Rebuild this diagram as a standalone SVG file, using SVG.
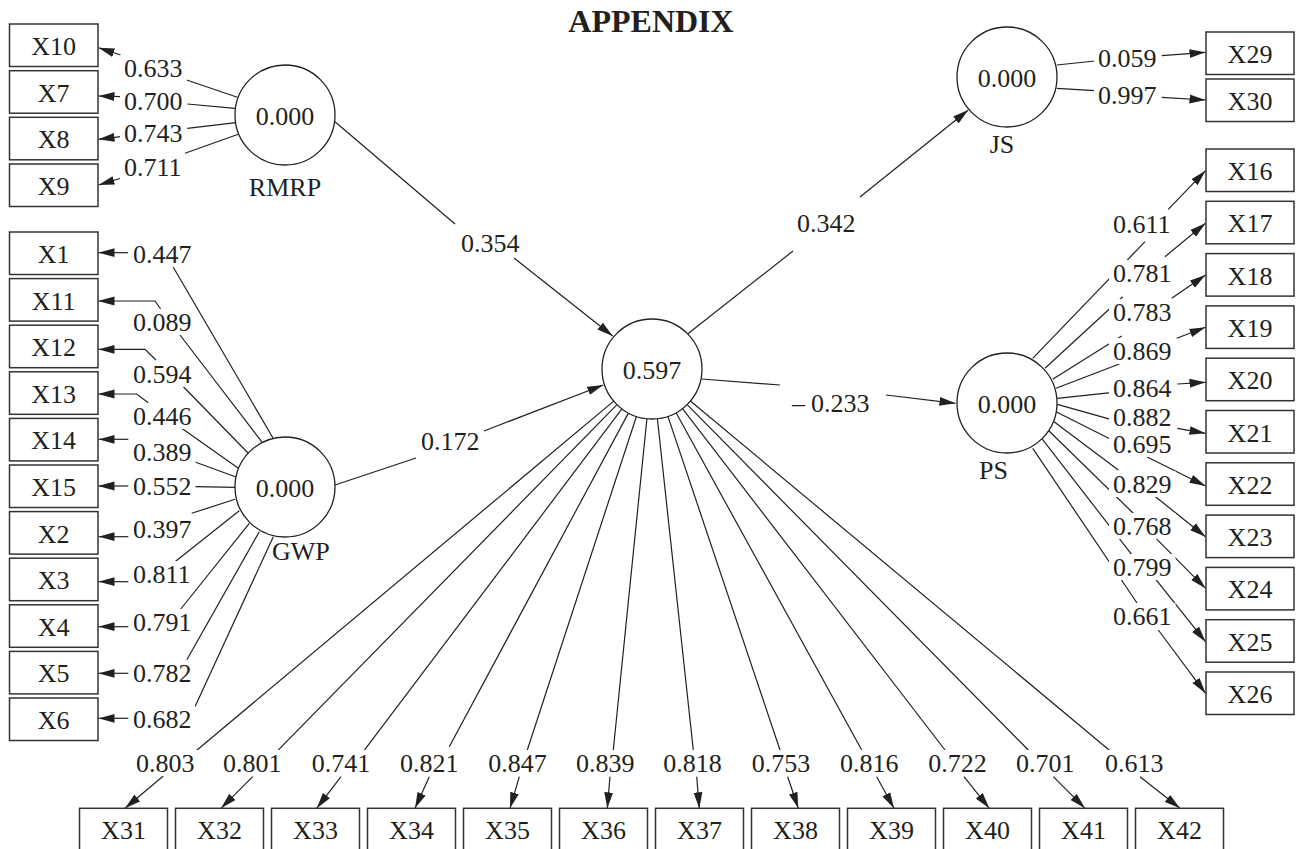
<svg xmlns="http://www.w3.org/2000/svg" width="1300" height="849" viewBox="0 0 1300 849">
<defs>
<marker id="ah" viewBox="0 0 16 10" refX="16" refY="5" markerWidth="16" markerHeight="10" markerUnits="userSpaceOnUse" orient="auto"><path d="M0,0.6 L16,5 L0,9.4 z" fill="#231f20"/></marker>
<style>
text{font-family:"Liberation Serif","Times New Roman",serif;font-size:26px;fill:#231f20}
.c{text-anchor:middle}
.t{font-weight:bold;font-size:32px}
.box rect{fill:#fff;stroke:#333;stroke-width:1.5}
.lv circle{fill:#fff;stroke:#231f20;stroke-width:1.3}
.s{fill:none;stroke:#231f20;stroke-width:1.2}
.a{fill:none;stroke:#231f20;stroke-width:1.2;marker-end:url(#ah)}
.lb rect{fill:#fff}
</style>
</defs>
<rect width="1300" height="849" fill="#fff"/>
<text class="c t" x="651" y="32">APPENDIX</text>

<g id="connectors">
<!-- RMRP loadings -->
<path class="s" d="M237.3,97.3 L186.7,80"/><path class="a" d="M120.7,55 L98.5,47.7"/>
<path class="s" d="M235,108.3 L187.3,104"/><path class="a" d="M120.7,96.7 L98.5,96"/>
<path class="s" d="M236,122.7 L187.3,128.3"/><path class="a" d="M120.7,136.7 L98.5,139.3"/>
<path class="s" d="M238.3,134.3 L185,153.3"/><path class="a" d="M120.7,178.3 L98.5,185"/>
<!-- GWP loadings -->
<path class="s" d="M273,438 L173,266.7"/><path class="a" d="M128,252.7 L98.5,252.7"/>
<path class="s" d="M261.7,441.7 L180,335"/><path class="a" d="M160.7,309 L155,301 L98.5,301"/>
<path class="s" d="M248,453 L181.7,385"/><path class="a" d="M156,360 L145,349.3 L98.5,349.3"/>
<path class="s" d="M238,468 L181.7,428.3"/><path class="a" d="M148.3,402.7 L136.7,394 L98.5,394"/>
<path class="s" d="M236,477 L195,462"/><path class="a" d="M128.3,439.3 L98.5,439.3"/>
<path class="s" d="M235.7,487.3 L195,486.7"/><path class="a" d="M128.3,486 L98.5,486"/>
<path class="s" d="M235,499.3 L191.7,513.3"/><path class="a" d="M128.3,536.7 L98.5,536.7"/>
<path class="s" d="M239.3,510.7 L175,561.7"/><path class="a" d="M128.3,581.7 L98.5,581.7"/>
<path class="s" d="M249.3,523.3 L180,610"/><path class="a" d="M128.3,626.7 L98.5,626.7"/>
<path class="s" d="M259.3,531.7 L186.7,660"/><path class="a" d="M128.3,673.3 L98.5,673.3"/>
<path class="s" d="M273.3,536.7 L195,706.7"/><path class="a" d="M128.3,718.3 L98.5,718.3"/>
<!-- structural -->
<path class="s" d="M335,121.7 L455,224"/><path class="a" d="M514,258 L612.7,336"/>
<path class="s" d="M335,485 L416,458"/><path class="a" d="M484,431 L603.3,385"/>
<path class="s" d="M687.3,334.3 L793,251"/><path class="a" d="M860,197 L968.3,110"/>
<path class="s" d="M701.7,379 L780,385"/><path class="a" d="M886,395 L955.5,403.3"/>
<!-- JS loadings -->
<path class="s" d="M1056.7,65 L1095,61"/><path class="a" d="M1161.7,55.7 L1205.5,52.3"/>
<path class="s" d="M1056.7,88.3 L1095,90.7"/><path class="a" d="M1161.7,97.3 L1205.5,100"/>
<!-- PS loadings -->
<path class="s" d="M1032.7,358.3 L1145,241.7"/><path class="a" d="M1168.3,209.3 L1205.5,170.7"/>
<path class="s" d="M1045,368.3 L1122.7,296.7"/><path class="a" d="M1165,256.7 L1205.5,223.3"/>
<path class="s" d="M1052.7,379.3 L1121.7,336"/><path class="a" d="M1171.7,298.3 L1205.5,275"/>
<path class="s" d="M1056,388.3 L1119.3,364"/><path class="a" d="M1176.7,338.3 L1205.5,327.3"/>
<path class="s" d="M1057.3,398.3 L1110.7,392.7"/><path class="a" d="M1177.3,384 L1205.5,382.3"/>
<path class="s" d="M1057.3,404.3 L1110.7,419.3"/><path class="a" d="M1177.3,428.3 L1205.5,433.3"/>
<path class="s" d="M1056,411.7 L1110.7,439.3"/><path class="a" d="M1146.7,456.7 L1205.5,486"/>
<path class="s" d="M1051.7,420 L1118.3,470"/><path class="a" d="M1153.3,495 L1205.5,536.7"/>
<path class="s" d="M1048,430 L1133.3,513.3"/><path class="a" d="M1155,537.3 L1205.5,588.3"/>
<path class="s" d="M1041.7,438.3 L1133.3,556.7"/><path class="a" d="M1155,578.3 L1205.5,641.7"/>
<path class="s" d="M1032.7,448.3 L1137,603"/><path class="a" d="M1158.3,630 L1205.5,693.3"/>
<!-- bottom loadings -->
<path class="s" d="M613.7,401.1 L195,751.7"/><path class="a" d="M163.3,776 L125,808.3"/>
<path class="s" d="M617,404.7 L276.7,751.7"/><path class="a" d="M252.7,776.7 L221,808.3"/>
<path class="s" d="M621.9,408.9 L363.3,751.7"/><path class="a" d="M341,776.7 L316.7,808.3"/>
<path class="s" d="M628.4,413.1 L449.3,746.7"/><path class="a" d="M429.3,776.7 L415,808.3"/>
<path class="s" d="M636.4,416.5 L527.3,750"/><path class="a" d="M519.3,776.7 L510,808.3"/>
<path class="s" d="M646.9,418.7 L613.3,750"/><path class="a" d="M610,776.7 L607.3,808.3"/>
<path class="s" d="M657.4,418.7 L693.3,750"/><path class="a" d="M696.7,776.7 L699.3,808.3"/>
<path class="s" d="M667.9,416.4 L780,750"/><path class="a" d="M787.7,776.7 L798.3,808.3"/>
<path class="s" d="M676.1,412.8 L861.7,750"/><path class="a" d="M876.7,776.7 L894,808.3"/>
<path class="s" d="M682.5,408.6 L945,750"/><path class="a" d="M964,776.7 L989.3,808.3"/>
<path class="s" d="M687.1,404.6 L1028.3,750"/><path class="a" d="M1053.3,776.7 L1085,808.3"/>
<path class="s" d="M690.4,401 L1110,750.7"/><path class="a" d="M1140,776.7 L1180,808.3"/>
</g>

<g id="edge-labels" class="lb">
<rect x="120" y="55" width="66.5" height="26"/><text x="124" y="77">0.633</text>
<rect x="120" y="88" width="66.5" height="26"/><text x="124" y="110">0.700</text>
<rect x="120" y="119.7" width="66.5" height="26"/><text x="124" y="141.7">0.743</text>
<rect x="120" y="154" width="66.5" height="26"/><text x="124" y="176">0.711</text>
<rect x="129" y="241" width="66.5" height="26"/><text x="133" y="263">0.447</text>
<rect x="129" y="309" width="66.5" height="26"/><text x="133" y="331">0.089</text>
<rect x="129" y="361" width="66.5" height="26"/><text x="133" y="383">0.594</text>
<rect x="129" y="403" width="66.5" height="26"/><text x="133" y="425">0.446</text>
<rect x="129" y="439" width="66.5" height="26"/><text x="133" y="461">0.389</text>
<rect x="129" y="473" width="66.5" height="26"/><text x="133" y="495">0.552</text>
<rect x="129" y="516" width="66.5" height="26"/><text x="133" y="538">0.397</text>
<rect x="129" y="561" width="66.5" height="26"/><text x="133" y="583">0.811</text>
<rect x="129" y="609" width="66.5" height="26"/><text x="133" y="631">0.791</text>
<rect x="129" y="659.7" width="66.5" height="26"/><text x="133" y="681.7">0.782</text>
<rect x="129" y="706" width="66.5" height="26"/><text x="133" y="728">0.682</text>
<rect x="457" y="230" width="66.5" height="26"/><text x="461" y="252">0.354</text>
<rect x="417" y="428" width="66.5" height="26"/><text x="421" y="450">0.172</text>
<rect x="793" y="210" width="66.5" height="26"/><text x="797" y="232">0.342</text>
<rect x="785" y="390" width="96" height="26"/><text x="792" y="412">–<tspan dx="6">0.233</tspan></text>
<rect x="1094" y="44.7" width="66.5" height="26"/><text x="1098" y="66.7">0.059</text>
<rect x="1094" y="82" width="66.5" height="26"/><text x="1098" y="104">0.997</text>
<rect x="1109" y="211" width="66.5" height="26"/><text x="1113" y="233">0.611</text>
<rect x="1109" y="260" width="66.5" height="26"/><text x="1113" y="282">0.781</text>
<rect x="1109" y="299" width="66.5" height="26"/><text x="1113" y="321">0.783</text>
<rect x="1109" y="338" width="66.5" height="26"/><text x="1113" y="360">0.869</text>
<rect x="1109" y="375" width="66.5" height="26"/><text x="1113" y="397">0.864</text>
<rect x="1109" y="404" width="66.5" height="26"/><text x="1113" y="426">0.882</text>
<rect x="1109" y="431" width="66.5" height="26"/><text x="1113" y="453">0.695</text>
<rect x="1109" y="471" width="66.5" height="26"/><text x="1113" y="493">0.829</text>
<rect x="1109" y="513" width="66.5" height="26"/><text x="1113" y="535">0.768</text>
<rect x="1109" y="554" width="66.5" height="26"/><text x="1113" y="576">0.799</text>
<rect x="1109" y="603" width="66.5" height="26"/><text x="1113" y="625">0.661</text>
<rect x="132" y="750" width="66.5" height="26"/><text x="136" y="772">0.803</text>
<rect x="219" y="750" width="66.5" height="26"/><text x="223" y="772">0.801</text>
<rect x="307.7" y="750" width="66.5" height="26"/><text x="311.7" y="772">0.741</text>
<rect x="396" y="750" width="66.5" height="26"/><text x="400" y="772">0.821</text>
<rect x="484.3" y="750" width="66.5" height="26"/><text x="488.3" y="772">0.847</text>
<rect x="572" y="750" width="66.5" height="26"/><text x="576" y="772">0.839</text>
<rect x="659.3" y="750" width="66.5" height="26"/><text x="663.3" y="772">0.818</text>
<rect x="747.7" y="750" width="66.5" height="26"/><text x="751.7" y="772">0.753</text>
<rect x="836" y="750" width="66.5" height="26"/><text x="840" y="772">0.816</text>
<rect x="924.3" y="750" width="66.5" height="26"/><text x="928.3" y="772">0.722</text>
<rect x="1012" y="750" width="66.5" height="26"/><text x="1016" y="772">0.701</text>
<rect x="1101" y="750" width="66.5" height="26"/><text x="1105" y="772">0.613</text>
</g>

<g id="RMRP" class="lv"><circle cx="285" cy="115" r="50"/><text class="c" x="285" y="125">0.000</text><text class="c" x="285" y="196">RMRP</text></g>
<g id="GWP" class="lv"><circle cx="285" cy="487" r="50"/><text class="c" x="285" y="497">0.000</text><text x="272" y="560">GWP</text></g>
<g id="CENTER" class="lv"><circle cx="652" cy="369" r="50"/><text class="c" x="652" y="379">0.597</text></g>
<g id="JS" class="lv"><circle cx="1007" cy="77" r="50"/><text class="c" x="1007" y="87">0.000</text><text class="c" x="1002" y="153">JS</text></g>
<g id="PS" class="lv"><circle cx="1007" cy="403" r="50"/><text class="c" x="1007" y="413">0.000</text><text x="979" y="479">PS</text></g>

<g id="X10" class="box"><rect x="9.5" y="24" width="88.5" height="42.5"/><text class="c" x="53.7" y="55">X10</text></g>
<g id="X7" class="box"><rect x="9.5" y="70.7" width="88.5" height="42.5"/><text class="c" x="53.7" y="101.7">X7</text></g>
<g id="X8" class="box"><rect x="9.5" y="117.3" width="88.5" height="42.5"/><text class="c" x="53.7" y="148.3">X8</text></g>
<g id="X9" class="box"><rect x="9.5" y="164" width="88.5" height="42.5"/><text class="c" x="53.7" y="195">X9</text></g>
<g id="X1" class="box"><rect x="9.5" y="232" width="88.5" height="42.5"/><text class="c" x="53.7" y="263">X1</text></g>
<g id="X11" class="box"><rect x="9.5" y="278.6" width="88.5" height="42.5"/><text class="c" x="53.7" y="309.6">X11</text></g>
<g id="X12" class="box"><rect x="9.5" y="325.2" width="88.5" height="42.5"/><text class="c" x="53.7" y="356.2">X12</text></g>
<g id="X13" class="box"><rect x="9.5" y="371.8" width="88.5" height="42.5"/><text class="c" x="53.7" y="402.8">X13</text></g>
<g id="X14" class="box"><rect x="9.5" y="418.4" width="88.5" height="42.5"/><text class="c" x="53.7" y="449.4">X14</text></g>
<g id="X15" class="box"><rect x="9.5" y="465" width="88.5" height="42.5"/><text class="c" x="53.7" y="496">X15</text></g>
<g id="X2" class="box"><rect x="9.5" y="511.6" width="88.5" height="42.5"/><text class="c" x="53.7" y="542.6">X2</text></g>
<g id="X3" class="box"><rect x="9.5" y="558.2" width="88.5" height="42.5"/><text class="c" x="53.7" y="589.2">X3</text></g>
<g id="X4" class="box"><rect x="9.5" y="604.8" width="88.5" height="42.5"/><text class="c" x="53.7" y="635.8">X4</text></g>
<g id="X5" class="box"><rect x="9.5" y="651.4" width="88.5" height="42.5"/><text class="c" x="53.7" y="682.4">X5</text></g>
<g id="X6" class="box"><rect x="9.5" y="698" width="88.5" height="42.5"/><text class="c" x="53.7" y="729">X6</text></g>

<g id="X29" class="box"><rect x="1206" y="32" width="88" height="42.5"/><text class="c" x="1250" y="63">X29</text></g>
<g id="X30" class="box"><rect x="1206" y="79" width="88" height="42.5"/><text class="c" x="1250" y="110">X30</text></g>
<g id="X16" class="box"><rect x="1206" y="149" width="88" height="42.5"/><text class="c" x="1250" y="180">X16</text></g>
<g id="X17" class="box"><rect x="1206" y="201.3" width="88" height="42.5"/><text class="c" x="1250" y="232.3">X17</text></g>
<g id="X18" class="box"><rect x="1206" y="253.6" width="88" height="42.5"/><text class="c" x="1250" y="284.6">X18</text></g>
<g id="X19" class="box"><rect x="1206" y="305.9" width="88" height="42.5"/><text class="c" x="1250" y="336.9">X19</text></g>
<g id="X20" class="box"><rect x="1206" y="358.2" width="88" height="42.5"/><text class="c" x="1250" y="389.2">X20</text></g>
<g id="X21" class="box"><rect x="1206" y="410.5" width="88" height="42.5"/><text class="c" x="1250" y="441.5">X21</text></g>
<g id="X22" class="box"><rect x="1206" y="462.8" width="88" height="42.5"/><text class="c" x="1250" y="493.8">X22</text></g>
<g id="X23" class="box"><rect x="1206" y="515.1" width="88" height="42.5"/><text class="c" x="1250" y="546.1">X23</text></g>
<g id="X24" class="box"><rect x="1206" y="567.4" width="88" height="42.5"/><text class="c" x="1250" y="598.4">X24</text></g>
<g id="X25" class="box"><rect x="1206" y="619.7" width="88" height="42.5"/><text class="c" x="1250" y="650.7">X25</text></g>
<g id="X26" class="box"><rect x="1206" y="672" width="88" height="42.5"/><text class="c" x="1250" y="703">X26</text></g>

<g id="X31" class="box"><rect x="79.5" y="808.3" width="88" height="43"/><text class="c" x="123.5" y="839">X31</text></g>
<g id="X32" class="box"><rect x="175.5" y="808.3" width="88" height="43"/><text class="c" x="219.5" y="839">X32</text></g>
<g id="X33" class="box"><rect x="271.5" y="808.3" width="88" height="43"/><text class="c" x="315.5" y="839">X33</text></g>
<g id="X34" class="box"><rect x="367.5" y="808.3" width="88" height="43"/><text class="c" x="411.5" y="839">X34</text></g>
<g id="X35" class="box"><rect x="463.5" y="808.3" width="88" height="43"/><text class="c" x="507.5" y="839">X35</text></g>
<g id="X36" class="box"><rect x="559.5" y="808.3" width="88" height="43"/><text class="c" x="603.5" y="839">X36</text></g>
<g id="X37" class="box"><rect x="655.5" y="808.3" width="88" height="43"/><text class="c" x="699.5" y="839">X37</text></g>
<g id="X38" class="box"><rect x="751.5" y="808.3" width="88" height="43"/><text class="c" x="795.5" y="839">X38</text></g>
<g id="X39" class="box"><rect x="847.5" y="808.3" width="88" height="43"/><text class="c" x="891.5" y="839">X39</text></g>
<g id="X40" class="box"><rect x="943.5" y="808.3" width="88" height="43"/><text class="c" x="987.5" y="839">X40</text></g>
<g id="X41" class="box"><rect x="1039.5" y="808.3" width="88" height="43"/><text class="c" x="1083.5" y="839">X41</text></g>
<g id="X42" class="box"><rect x="1135.5" y="808.3" width="88" height="43"/><text class="c" x="1179.5" y="839">X42</text></g>
</svg>
